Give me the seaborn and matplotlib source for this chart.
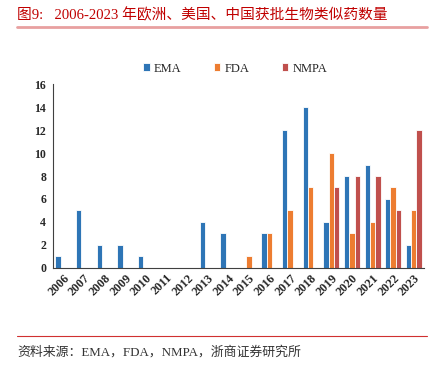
import numpy as np
import pandas as pd
import matplotlib
matplotlib.use("Agg")
import matplotlib.pyplot as plt
import seaborn as sns

years = [str(y) for y in range(2006, 2024)]
ema = [1, 5, 2, 2, 1, 0, 0, 4, 3, 0, 3, 12, 14, 4, 8, 9, 6, 2]
fda = [0, 0, 0, 0, 0, 0, 0, 0, 0, 1, 3, 5, 7, 10, 3, 4, 7, 5]
nmpa = [0, 0, 0, 0, 0, 0, 0, 0, 0, 0, 0, 0, 0, 7, 8, 8, 5, 12]
agencies = ["EMA", "FDA", "NMPA"]
colors = ["#2e75b6", "#ed7d31", "#c0504d"]

df = pd.DataFrame({
    "year": years * 3,
    "agency": np.repeat(agencies, len(years)),
    "count": ema + fda + nmpa,
})

sns.set_style("white")
plt.rcParams["font.family"] = ["Liberation Serif", "Noto Sans CJK SC", "DejaVu Sans"]

fig = plt.figure(figsize=(4.39, 3.69), dpi=100)
ax = fig.add_axes([0.121, 0.274, 0.845, 0.498])

sns.barplot(data=df, x="year", y="count", hue="agency", hue_order=agencies,
            palette=colors, saturation=1, width=0.78, edgecolor="white",
            linewidth=0.6, ax=ax, legend=True)

ax.set_ylim(0, 16)
ax.set_yticks(range(0, 17, 2))
ax.set_xlim(-0.5, len(years) - 0.5)
ax.set_xlabel("")
ax.set_ylabel("")
for s in ["top", "right"]:
    ax.spines[s].set_visible(False)
for s in ["left", "bottom"]:
    ax.spines[s].set_color("#404040")
    ax.spines[s].set_linewidth(0.8)

# tick marks between categories, labels centered
ax.set_xticks(np.arange(len(years)))
ax.set_xticklabels(years, rotation=45, ha="right", rotation_mode="anchor",
                   fontsize=8.8, fontweight="bold")
ax.tick_params(axis="x", length=0, pad=3)
ax.set_xticks(np.arange(-0.5, len(years), 1), minor=True)
ax.tick_params(axis="x", which="minor", length=3, direction="out", color="#404040", width=0.8)
ax.tick_params(axis="y", length=3, direction="out", color="#404040", width=0.8,
               labelsize=8.5, pad=2)
for t in ax.get_yticklabels():
    t.set_fontweight("bold")

ax.legend(loc="center", bbox_to_anchor=(0.49, 1.085), ncol=3, frameon=False,
          fontsize=9, handlelength=0.55, handleheight=0.55, handletextpad=0.3,
          columnspacing=2.6)

fig.text(17 / 439, 1 - 15 / 369, "图9:   2006-2023 年欧洲、美国、中国获批生物类似药数量",
         color="#c00000", fontsize=10.6, va="center", ha="left")
fig.add_artist(plt.Line2D([17 / 439, 427 / 439], [1 - 27 / 369] * 2,
                          color="#e8a0a0", lw=2))
fig.add_artist(plt.Line2D([17 / 439, 427 / 439], [1 - 336 / 369] * 2,
                          color="#d03030", lw=0.8))
fig.text(17 / 439, 1 - 352 / 369, "资料来源：EMA，FDA，NMPA，浙商证券研究所",
         color="#333333", fontsize=9.3, va="center", ha="left")

fig.savefig("out.png", dpi=100)
